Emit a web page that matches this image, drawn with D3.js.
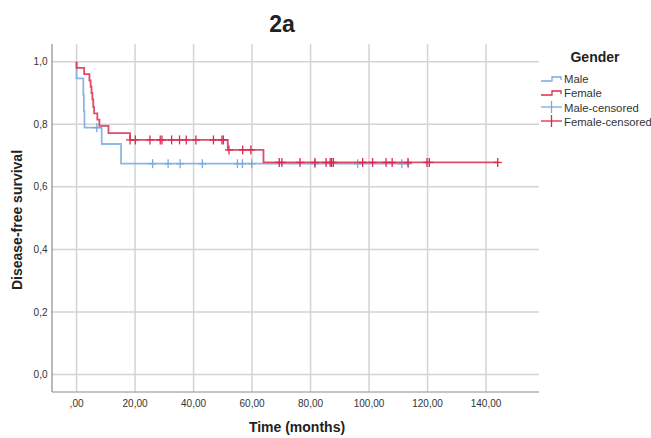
<!DOCTYPE html>
<html>
<head>
<meta charset="utf-8">
<script src="https://cdn.jsdelivr.net/npm/d3@7"></script>
<style>
  body { margin: 0; background: #fff; }
  text { font-family: "Liberation Sans", Arial, sans-serif; }
</style>
</head>
<body>
<div id="chart"></div>
<script>
// Kaplan-Meier data
var maleEventTimes = [0, 2.3, 2.5, 2.7, 8.6, 15.2];
var maleEventSurv  = [0.947, 0.895, 0.842, 0.789, 0.737, 0.674];
var maleEnd = 114;
var maleCensored = [6.9, 26, 31.3, 35.4, 43, 55, 56.7, 59.9, 81.5, 96.1, 111.2, 113.4];

var femaleEventTimes = [0, 2.6, 4.4, 4.8, 5.1, 5.4, 5.7, 6.0, 7.1, 7.8, 10.9, 18.3, 51.7, 63.9];
var femaleEventSurv  = [0.98, 0.96, 0.94, 0.92, 0.90, 0.88, 0.855, 0.835, 0.815, 0.795, 0.772, 0.75, 0.718, 0.678];
var femaleEnd = 144;
var femaleCensored = [18.3, 20.1, 25.1, 28.6, 29.2, 32.5, 35.2, 37.5, 40.8, 46.8, 49.7, 50.2, 52.1, 56.8, 59.6,
  69.3, 70.2, 76.4, 81.5, 85.3, 86.7, 87.2, 87.8, 97.8, 101.2, 105.8, 107.9, 113.3, 119.8, 120.6, 144];

var xTicks = [0, 20, 40, 60, 80, 100, 120, 140];
var xTickLabels = [",00", "20,00", "40,00", "60,00", "80,00", "100,00", "120,00", "140,00"];
var yTicks = [0, 0.2, 0.4, 0.6, 0.8, 1.0];
var yTickLabels = ["0,0", "0,2", "0,4", "0,6", "0,8", "1,0"];
var legendLabels = ["Male", "Female", "Male-censored", "Female-censored"];

var svgWidth = 651, svgHeight = 438;
var plot = {left: 52, right: 539, top: 44, bottom: 392};
var blue = "#7aa9df", red = "#dc2a4f";

var svg = d3.select("#chart").append("svg")
  .attr("width", svgWidth)
  .attr("height", svgHeight);

var x = d3.scaleLinear().domain([-8.4, 158.1]).range([plot.left, plot.right]);
var y = d3.scaleLinear().domain([-0.0557, 1.0566]).range([plot.bottom, plot.top]);

// grid
var grid = svg.append("g");
grid.selectAll(".vg").data(xTicks).join("line")
  .attr("x1", d => x(d)).attr("x2", d => x(d))
  .attr("y1", plot.top).attr("y2", plot.bottom)
  .attr("stroke", "#d3d3d3").attr("stroke-width", 1.5);
grid.selectAll(".hg").data(yTicks).join("line")
  .attr("x1", plot.left).attr("x2", plot.right)
  .attr("y1", d => y(d)).attr("y2", d => y(d))
  .attr("stroke", "#d3d3d3").attr("stroke-width", 1.5);

// axis lines
svg.append("line").attr("x1", plot.left).attr("x2", plot.left)
  .attr("y1", plot.top).attr("y2", plot.bottom)
  .attr("stroke", "#8c8c8c").attr("stroke-width", 1.2);
svg.append("line").attr("x1", plot.left).attr("x2", plot.right)
  .attr("y1", plot.bottom).attr("y2", plot.bottom)
  .attr("stroke", "#8c8c8c").attr("stroke-width", 1.2);

// tick labels
svg.append("g").selectAll("text").data(xTicks).join("text")
  .attr("x", d => x(d)).attr("y", 406.5)
  .attr("text-anchor", "middle").attr("font-size", "10px").attr("fill", "#333")
  .text((d, i) => xTickLabels[i]);
svg.append("g").selectAll("text").data(yTicks).join("text")
  .attr("x", 47.5).attr("y", d => y(d) + 3.5)
  .attr("text-anchor", "end").attr("font-size", "10px").attr("fill", "#333")
  .text((d, i) => yTickLabels[i]);

// survival curves
function stepPoints(times, surv, end) {
  var pts = [[0, 1]];
  times.forEach((t, i) => pts.push([t, surv[i]]));
  pts.push([end, surv[surv.length - 1]]);
  return pts;
}
function survAt(times, surv, t) {
  var s = 1;
  times.forEach((tt, i) => { if (tt <= t) s = surv[i]; });
  return s;
}
var line = d3.line().x(d => x(d[0])).y(d => y(d[1])).curve(d3.curveStepAfter);

function drawGroup(times, surv, end, censored, color) {
  var g = svg.append("g");
  g.append("path")
    .datum(stepPoints(times, surv, end))
    .attr("d", line)
    .attr("fill", "none")
    .attr("stroke", color).attr("stroke-width", 1.8).attr("stroke-opacity", 0.85);
  var marks = g.selectAll(".c").data(censored).join("g")
    .attr("transform", d => `translate(${x(d)},${y(survAt(times, surv, d))})`);
  marks.append("line").attr("x1", 0).attr("x2", 0).attr("y1", -4.5).attr("y2", 4.5)
    .attr("stroke", color).attr("stroke-width", 1.3);
  marks.append("line").attr("x1", -4).attr("x2", 4).attr("y1", 0).attr("y2", 0)
    .attr("stroke", color).attr("stroke-width", 1.3);
}
drawGroup(maleEventTimes, maleEventSurv, maleEnd, maleCensored, blue);
drawGroup(femaleEventTimes, femaleEventSurv, femaleEnd, femaleCensored, red);

// titles
svg.append("text").attr("x", 282).attr("y", 32)
  .attr("text-anchor", "middle").attr("font-size", "23px").attr("font-weight", "bold")
  .attr("fill", "#222").text("2a");
svg.append("text").attr("x", 297).attr("y", 432)
  .attr("text-anchor", "middle").attr("font-size", "14px").attr("font-weight", "bold")
  .attr("fill", "#222").text("Time (months)");
svg.append("text")
  .attr("transform", "translate(22,220) rotate(-90)")
  .attr("text-anchor", "middle").attr("font-size", "14px").attr("font-weight", "bold")
  .attr("fill", "#222").text("Disease-free survival");

// legend
var legend = svg.append("g");
legend.append("text").attr("x", 595).attr("y", 62)
  .attr("text-anchor", "middle").attr("font-size", "14px").attr("font-weight", "bold")
  .attr("fill", "#222").text("Gender");
var legendY = [78, 92, 107, 121];
var legendColors = [blue, red, blue, red];
legendLabels.forEach(function(lab, i) {
  var cy = legendY[i];
  if (i < 2) {
    legend.append("path")
      .attr("d", `M541,${cy + 3}H552V${cy - 1}H561V${cy + 2}`)
      .attr("fill", "none").attr("stroke", legendColors[i]).attr("stroke-width", 1.3);
  } else {
    legend.append("line").attr("x1", 541).attr("x2", 562).attr("y1", cy).attr("y2", cy)
      .attr("stroke", legendColors[i]).attr("stroke-width", 1.3);
    legend.append("line").attr("x1", 551.5).attr("x2", 551.5).attr("y1", cy - 6).attr("y2", cy + 6)
      .attr("stroke", legendColors[i]).attr("stroke-width", 1.3);
  }
  legend.append("text").attr("x", 564).attr("y", cy + 4.5)
    .attr("font-size", "11.3px").attr("fill", "#333").text(lab);
});
</script>
</body>
</html>
